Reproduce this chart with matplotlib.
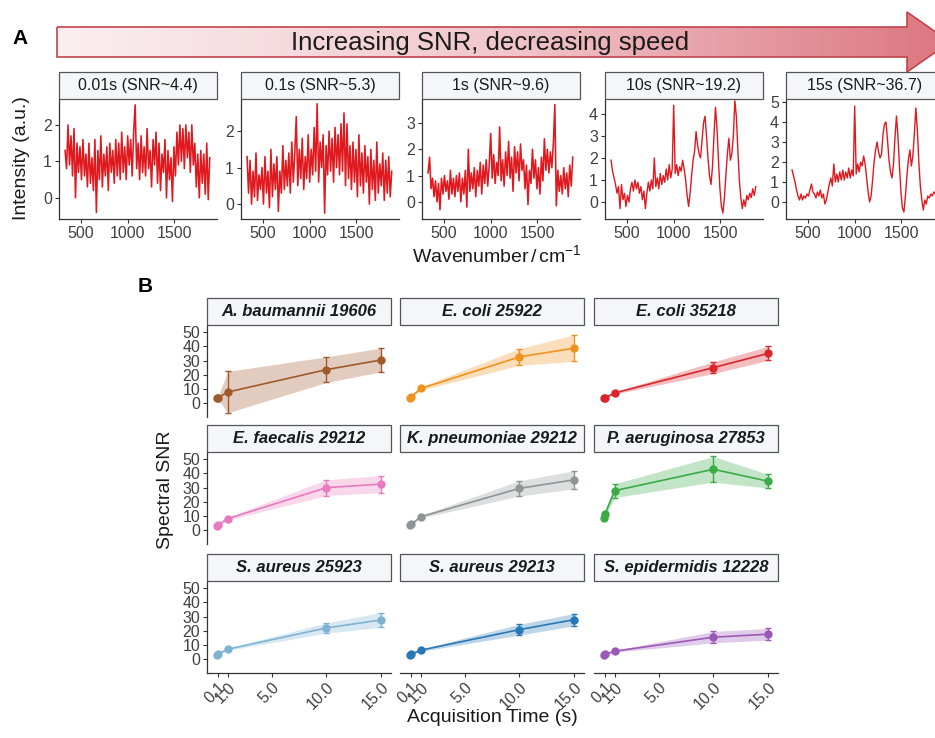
import matplotlib
matplotlib.use("Agg")
import matplotlib.pyplot as plt, numpy as np
from matplotlib.patches import Polygon, Rectangle
from matplotlib.colors import LinearSegmentedColormap

plt.rcParams["font.family"] = ["Liberation Sans", "DejaVu Sans"]
plt.rcParams["mathtext.fontset"] = "custom"
plt.rcParams["mathtext.rm"] = "Liberation Sans"
plt.rcParams["mathtext.it"] = "Liberation Sans:italic"

# ---------------- data: panel A (Raman spectra at 5 acquisition times) ----------------
wavenumber = np.arange(330, 1890, 16)  # 98 points

spec_titles = ["0.01s (SNR~4.4)", "0.1s (SNR~5.3)", "1s (SNR~9.6)",
               "10s (SNR~19.2)", "15s (SNR~36.7)"]

spec_001 = [1.3, 0.8, 2.0, 0.9, 1.7, 0.6, 1.9, 0.0, 1.5, 0.7,
            1.4, 0.5, 1.6, 0.6, 1.2, 0.3, 1.5, 0.4, 1.1, 0.2,
            1.6, -0.4, 1.3, 0.5, 1.7, 0.3, 1.2, 0.6, 1.4, 0.2,
            1.5, 0.7, 1.3, 0.4, 1.6, 0.6, 1.5, 0.5, 1.8, 0.7,
            1.4, 0.5, 1.7, 0.9, 1.6, 0.6, 1.8, 2.55, 0.8, 1.5,
            0.5, 1.7, 0.7, 1.4, 0.6, 1.9, 0.8, 1.3, 0.3, 1.6,
            0.9, 1.8, 0.4, 1.5, 0.2, 1.2, 0.7, 1.6, 0.0, 1.3,
            0.5, 1.1, -0.1, 1.4, 0.6, 1.8, 0.9, 2.0, 1.0, 1.9,
            0.8, 2.0, 1.1, 1.8, 0.7, 2.0, 0.9, 1.5, 0.3, 1.2,
            0.0, 1.3, 0.4, 1.2, 0.1, 1.5, -0.05, 1.1]

spec_01 = [1.3, 0.3, 1.2, 0.0, 0.9, 0.2, 1.4, 0.1, 0.8, 0.4,
           1.0, 0.0, 1.3, 0.3, 0.9, -0.1, 1.5, 0.2, 1.1, 0.4,
           1.3, -0.2, 0.9, 0.3, 1.6, 0.4, 1.2, 0.5, 1.4, 0.3,
           1.7, 0.6, 1.4, 2.4, 0.5, 1.5, 0.7, 1.8, 0.4, 1.3,
           0.7, 1.9, 0.6, 1.5, 0.8, 2.1, 0.9, 2.75, 0.6, 1.7,
           1.0, 1.9, -0.25, 1.6, 0.8, 2.0, 0.9, 1.8, 0.6, 2.1,
           1.0, 1.9, 0.8, 2.2, 0.9, 2.5, 0.5, 2.2, 0.7, 1.6,
           0.4, 1.7, 0.6, 1.5, 0.2, 1.9, 0.5, 1.4, 0.3, 1.6,
           0.6, 1.3, 0.0, 1.5, 0.4, 1.2, 0.1, 1.7, 0.3, 1.1,
           0.5, 1.4, 0.1, 1.2, 0.3, 1.3, 0.2, 0.9]

spec_1 = [1.1, 1.7, 0.5, 0.9, 0.2, 0.8, 0.0, 0.7, -0.3, 0.9,
          0.3, 1.0, 0.4, 0.8, 0.1, 1.2, 0.3, 0.9, 0.2, 1.0,
          0.4, 1.1, 0.0, 0.9, 0.3, 1.2, -0.2, 2.0, 0.4, 1.1,
          0.5, 1.3, 0.2, 1.2, 0.6, 1.5, 0.3, 1.4, 0.7, 1.6,
          0.6, 1.4, 2.6, 0.9, 1.8, 0.7, 1.5, 1.0, 2.85, 0.8,
          1.6, 0.6, 1.9, 1.0, 2.3, 0.9, 1.7, 0.4, 2.1, 1.1,
          1.9, 0.8, 2.2, 1.2, 1.6, 0.5, 1.4, -0.1, 1.2, 0.7,
          2.0, 0.9, 1.6, 0.5, 1.3, 0.3, 1.7, 0.8, 2.4, 1.2,
          2.0, 1.1, 1.9, 1.3, 2.2, 3.7, -0.15, 1.2, 0.4, 1.0,
          0.3, 1.3, 0.5, 1.1, 0.2, 1.4, 0.6, 1.7]

spec_10 = [1.9, 1.4, 1.1, 0.8, 0.4, 0.7, -0.3, 0.8, 0.1, 0.4,
           -0.2, 0.3, 0.0, 0.6, 0.9, 0.5, 1.0, 0.6, 0.9, 0.4,
           0.7, 0.1, 0.5, -0.3, 0.4, 0.9, 0.5, 1.0, 0.6, 2.0,
           0.7, 1.1, 0.6, 1.3, 0.8, 1.2, 0.9, 1.5, 1.0, 1.7,
           1.1, 1.5, 4.4, 1.3, 1.7, 1.2, 1.6, 1.4, 1.9, 1.5,
           1.0, 0.3, -0.2, 0.4, 1.2, 1.9, 2.3, 3.2, 2.6, 2.2,
           2.0, 2.8, 3.6, 3.9, 3.0, 2.0, 1.2, 0.8, 1.6, 3.0,
           4.3, 3.4, 1.9, 0.6, -0.2, -0.5, 0.2, 1.2, 2.2, 2.9,
           1.9, 2.2, 3.0, 4.6, 3.9, 2.4, 1.0, 0.2, -0.3, 0.1,
           -0.2, 0.3, 0.1, 0.4, 0.2, 0.6, 0.3, 0.7]

spec_15 = [1.6, 1.3, 1.0, 0.6, 0.3, 0.1, 0.4, 0.1, 0.3, 0.2,
           0.4, 0.3, 0.6, 0.9, 0.5, 0.4, 0.2, 0.5, 0.3, 0.6,
           0.2, 0.4, -0.1, 0.1, 0.5, 0.9, 1.2, 0.8, 1.9, 1.0,
           1.4, 1.0, 1.5, 1.1, 1.6, 1.1, 1.5, 1.2, 1.7, 1.2,
           1.6, 1.3, 4.8, 1.4, 1.9, 1.5, 2.0, 1.8, 2.3, 1.9,
           1.2, 0.5, 0.0, 0.3, 1.1, 2.0, 2.6, 3.0, 2.5, 2.2,
           2.4, 3.4, 3.9, 4.0, 3.1, 2.1, 1.5, 1.2, 1.9, 3.2,
           4.3, 3.3, 1.8, 0.5, -0.3, -0.5, 0.3, 1.3, 2.1, 2.6,
           1.8, 2.3, 3.4, 4.7, 3.6, 2.0, 0.8, 0.1, -0.4, 0.1,
           -0.1, 0.3, 0.2, 0.4, 0.3, 0.5, 0.4, 0.5]

spectra = [spec_001, spec_01, spec_1, spec_10, spec_15]
spec_ylims = [(-0.58, 2.71), (-0.41, 2.88), (-0.65, 3.91), (-0.77, 4.68), (-0.85, 5.15)]
spec_yticks = [[0, 1, 2], [0, 1, 2], [0, 1, 2, 3], [0, 1, 2, 3, 4], [0, 1, 2, 3, 4, 5]]

# ---------------- data: panel B (SNR vs acquisition time per strain) ----------------
acq_time = [0.01, 0.1, 1, 10, 15]
strains = ["A. baumannii 19606", "E. coli 25922", "E. coli 35218",
           "E. faecalis 29212", "K. pneumoniae 29212", "P. aeruginosa 27853",
           "S. aureus 25923", "S. aureus 29213", "S. epidermidis 12228"]
snr_mean = [[3.5, 4.0, 8.0, 23.7, 30.5],
            [3.8, 4.5, 10.5, 32.6, 38.8],
            [3.5, 4.0, 7.4, 25.1, 35.1],
            [3.4, 3.8, 8.3, 30.0, 32.5],
            [3.8, 4.2, 9.6, 29.5, 35.5],
            [8.5, 11.5, 27.9, 42.9, 34.5],
            [3.4, 3.8, 7.2, 22.1, 27.7],
            [3.3, 3.7, 6.5, 20.9, 27.9],
            [3.3, 3.7, 5.8, 15.6, 17.7]]
snr_sd = [[1.0, 1.0, 14.5, 9.0, 8.3],
          [0.8, 0.9, 1.2, 5.8, 9.3],
          [0.6, 0.7, 0.8, 4.1, 4.9],
          [0.6, 0.7, 1.0, 5.5, 6.0],
          [0.6, 0.7, 0.9, 5.4, 6.3],
          [1.5, 1.5, 4.8, 9.0, 4.8],
          [0.5, 0.6, 0.8, 3.6, 5.2],
          [0.5, 0.6, 0.8, 3.8, 4.3],
          [0.5, 0.6, 0.7, 4.0, 4.1]]
strain_colors = ["#a0592b", "#f0921e", "#d9262b", "#e87bbf", "#8f9596",
                 "#3aab47", "#7fb3d5", "#2878b5", "#9b59b6"]
time_ticks = [0.1, 1, 5, 10, 15]
time_labels = ["0.1", "1.0", "5.0", "10.0", "15.0"]

# ---------------- layout (pixel coordinates) ----------------
W, H = 935, 738
fig = plt.figure(figsize=(W / 100, H / 100), dpi=100)
AX_COL = "#333333"
TICK_COL = "#404040"


def px_axes(x, y, w, h):
    return fig.add_axes([x / W, 1 - (y + h) / H, w / W, h / H])


def strip(x, y, w, h, text, **kw):
    fig.add_artist(Rectangle((x / W, 1 - (y + h) / H), w / W, h / H,
                             transform=fig.transFigure, fc="#f4f6f9",
                             ec="#555555", lw=0.9))
    fig.text((x + w / 2) / W, 1 - (y + h / 2) / H, text, ha="center",
             va="center", color="#1a1a1a", **kw)


def style(ax, left=True, bottom=True, size=11.5):
    for s in ["top", "right"]:
        ax.spines[s].set_visible(False)
    ax.spines["left"].set_visible(left)
    ax.spines["bottom"].set_visible(bottom)
    for s in ["left", "bottom"]:
        ax.spines[s].set_color(AX_COL)
        ax.spines[s].set_linewidth(0.9)
    ax.tick_params(colors=AX_COL, labelcolor=TICK_COL, length=3, width=0.8,
                   labelsize=size, pad=2)
    if not left:
        ax.tick_params(axis="y", left=False, labelleft=False)
    if not bottom:
        ax.tick_params(axis="x", bottom=False, labelbottom=False)


# gradient arrow on top of panel A
bg = fig.add_axes([0, 0, 1, 1])
bg.set_xlim(0, W)
bg.set_ylim(H, 0)
bg.axis("off")
arrow_pts = [(57, 27), (907, 27), (907, 12), (950, 42), (907, 72), (907, 57), (57, 57)]
arrow = Polygon(arrow_pts, closed=True, fc="none", ec="#c2444c", lw=1.2)
bg.add_patch(arrow)
grad_cmap = LinearSegmentedColormap.from_list("g", ["#fbeff1", "#f1c7cc", "#dc767f"])
im = bg.imshow(np.linspace(0, 1, 256).reshape(1, -1), cmap=grad_cmap, aspect="auto",
               extent=(57, 950, 72, 12), zorder=0)
im.set_clip_path(arrow)
bg.set_xlim(0, W)
bg.set_ylim(H, 0)
fig.text(490 / W, 1 - 43 / H, "Increasing SNR, decreasing speed", ha="center",
         va="center", fontsize=18.5, color="#1a1a1a")
fig.text(20 / W, 1 - 38 / H, "A", ha="center", va="center", fontsize=15, weight="bold")
fig.text(145 / W, 1 - 286 / H, "B", ha="center", va="center", fontsize=15, weight="bold")

# ---------------- panel A ----------------
spec_x = [59, 241, 422, 605, 786]
for i in range(5):
    ax = px_axes(spec_x[i], 99, 158, 120)
    ax.plot(wavenumber, spectra[i], color="#e0191e", lw=1.15 if i < 3 else 1.0)
    ax.set_xlim(265, 1960)
    ax.set_ylim(*spec_ylims[i])
    ax.set_xticks([500, 1000, 1500])
    ax.set_yticks(spec_yticks[i])
    style(ax)
    strip(spec_x[i], 72, 158, 27, spec_titles[i], fontsize=11.5)

fig.text(22 / W, 1 - 158 / H, "Intensity (a.u.)", rotation=90, ha="center",
         va="center", fontsize=14, color="#1a1a1a")
fig.text(497 / W, 1 - 255 / H, r"Wavenumber$\,/\,$cm$^{-1}$", ha="center",
         va="center", fontsize=14, color="#1a1a1a")

# ---------------- panel B ----------------
col_x = [207, 400, 594]
row_strip = [298, 425, 554]
for k, name in enumerate(strains):
    r, c = divmod(k, 3)
    x, ys = col_x[c], row_strip[r]
    ax = px_axes(x, ys + 27, 184, 92)
    col = strain_colors[k]
    m = np.array(snr_mean[k])
    s = np.array(snr_sd[k])
    ax.fill_between(acq_time, m - s, m + s, color=col, alpha=0.3, lw=0)
    ax.plot(acq_time, m, color=col, lw=1.2, marker="o", ms=5)
    ax.errorbar(acq_time, m, yerr=s, fmt="none", ecolor=col, elinewidth=1, capsize=2)
    ax.set_xlim(-0.9, 15.9)
    ax.set_ylim(-9.5, 55)
    ax.set_xticks(time_ticks)
    ax.set_xticklabels(time_labels, rotation=45, ha="right", va="top",
                       rotation_mode="anchor")
    ax.set_yticks([0, 10, 20, 30, 40, 50])
    style(ax, left=(c == 0), bottom=(r == 2), size=11.5)
    strip(x, ys, 184, 27, name, fontsize=12, weight="bold", style="italic")

fig.text(165 / W, 1 - 490 / H, "Spectral SNR", rotation=90, ha="center",
         va="center", fontsize=14, color="#1a1a1a")
fig.text(492 / W, 1 - 718 / H, "Acquisition Time (s)", ha="center",
         va="center", fontsize=14, color="#1a1a1a")

fig.savefig("out.png", dpi=100)
